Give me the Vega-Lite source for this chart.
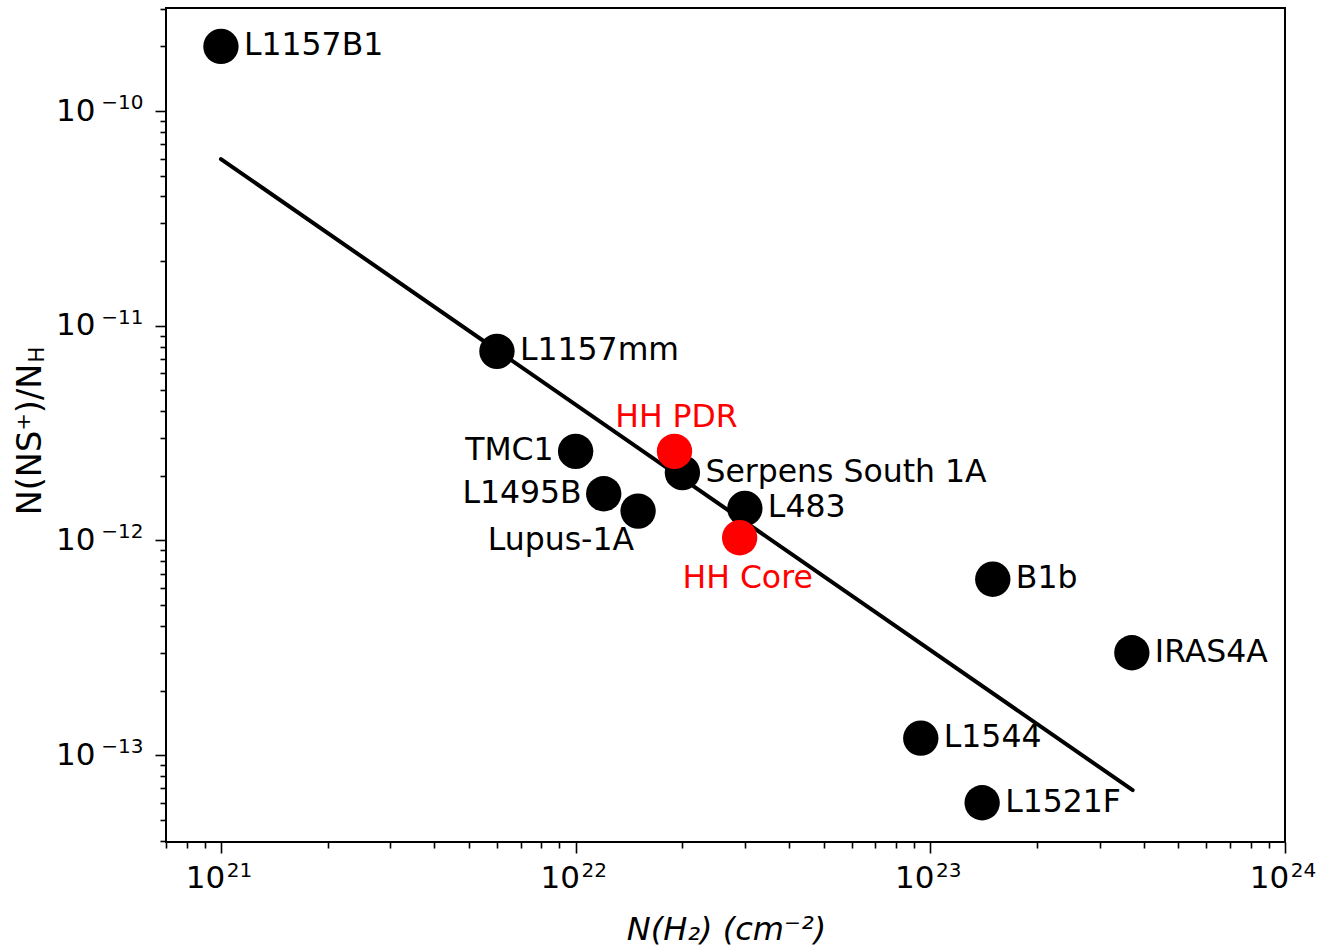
{
  "$schema": "https://vega.github.io/schema/vega-lite/v6.json",
  "width": 1119,
  "height": 834,
  "autosize": {"type": "none"},
  "padding": {"left": 166, "top": 8, "right": 52, "bottom": 109},
  "background": "white",
  "config": {
    "font": "DejaVu Sans",
    "view": {"stroke": "black", "strokeWidth": 2},
    "axis": {
      "domain": false,
      "grid": false,
      "tickColor": "black",
      "tickWidth": 1.6,
      "labelColor": "black",
      "labelFont": "DejaVu Sans",
      "labelFontSize": 31,
      "titleFont": "DejaVu Sans",
      "titleFontSize": 32,
      "titleColor": "black",
      "titleFontWeight": "normal",
      "labelFlush": false,
      "labelOverlap": false
    }
  },
  "datasets": {
    "sources": [
      {"name": "L1157B1", "nh2": 1.0e21, "ratio": 2.0e-10, "group": "literature"},
      {"name": "L1157mm", "nh2": 6.0e21, "ratio": 7.6e-12, "group": "literature"},
      {"name": "TMC1", "nh2": 1.0e22, "ratio": 2.6e-12, "group": "literature"},
      {"name": "L1495B", "nh2": 1.2e22, "ratio": 1.65e-12, "group": "literature"},
      {"name": "Lupus-1A", "nh2": 1.5e22, "ratio": 1.37e-12, "group": "literature"},
      {"name": "Serpens South 1A", "nh2": 2.0e22, "ratio": 2.07e-12, "group": "literature"},
      {"name": "L483", "nh2": 3.0e22, "ratio": 1.41e-12, "group": "literature"},
      {"name": "B1b", "nh2": 1.5e23, "ratio": 6.6e-13, "group": "literature"},
      {"name": "IRAS4A", "nh2": 3.7e23, "ratio": 3.0e-13, "group": "literature"},
      {"name": "L1544", "nh2": 9.4e22, "ratio": 1.2e-13, "group": "literature"},
      {"name": "L1521F", "nh2": 1.4e23, "ratio": 6.0e-14, "group": "literature"},
      {"name": "HH PDR", "nh2": 1.9e22, "ratio": 2.6e-12, "group": "this work"},
      {"name": "HH Core", "nh2": 2.9e22, "ratio": 1.03e-12, "group": "this work"}
    ],
    "fit": [
      {"nh2": 1.0e21, "ratio": 5.97e-11},
      {"nh2": 3.72e23, "ratio": 6.87e-14}
    ]
  },
  "resolve": {"axis": {"x": "independent", "y": "independent"}},
  "layer": [
    {
      "data": {"name": "fit"},
      "mark": {"type": "line", "color": "black", "strokeWidth": 4, "strokeCap": "round"},
      "encoding": {
        "x": {
          "field": "nh2", "type": "quantitative",
          "scale": {"type": "log", "domain": [7e20, 1e24]},
          "axis": {
            "orient": "bottom",
            "values": [1e21, 1e22, 1e23, 1e24],
            "tickSize": 11,
            "labelBaseline": "middle",
            "labelPadding": 25,
            "labelOffset": -16,
            "labelExpr": "'10'",
            "title": "N(H₂) (cm⁻²)",
            "titleFontStyle": "italic",
            "titleAlign": "center",
            "titleBaseline": "alphabetic",
            "titleAngle": 0,
            "titleX": 560,
            "titleY": 97
          }
        },
        "y": {
          "field": "ratio", "type": "quantitative",
          "scale": {"type": "log", "domain": [3.94e-14, 3.02e-10]},
          "axis": {
            "orient": "left",
            "values": [1e-13, 1e-12, 1e-11, 1e-10],
            "tickSize": 11,
            "labelAlign": "right",
            "labelBaseline": "middle",
            "labelPadding": 60,
            "labelExpr": "'10'",
            "title": "N(NS⁺)/N",
            "titleFontSize": 33.5,
            "titleAngle": -90,
            "titleAlign": "center",
            "titleBaseline": "alphabetic",
            "titleX": -126,
            "titleY": 431
          }
        }
      }
    },
    {
      "data": {"name": "sources"},
      "mark": {"type": "circle", "size": 1250, "opacity": 1},
      "encoding": {
        "x": {
          "field": "nh2", "type": "quantitative",
          "scale": {"type": "log", "domain": [7e20, 1e24]},
          "axis": {
            "orient": "bottom",
            "values": [7e20, 8e20, 9e20, 2e21, 3e21, 4e21, 5e21, 6e21, 7e21, 8e21, 9e21, 2e22, 3e22, 4e22, 5e22, 6e22, 7e22, 8e22, 9e22, 2e23, 3e23, 4e23, 5e23, 6e23, 7e23, 8e23, 9e23],
            "tickSize": 6,
            "labels": false,
            "title": null
          }
        },
        "y": {
          "field": "ratio", "type": "quantitative",
          "scale": {"type": "log", "domain": [3.94e-14, 3.02e-10]},
          "axis": {
            "orient": "left",
            "values": [4e-14, 5e-14, 6e-14, 7e-14, 8e-14, 9e-14, 2e-13, 3e-13, 4e-13, 5e-13, 6e-13, 7e-13, 8e-13, 9e-13, 2e-12, 3e-12, 4e-12, 5e-12, 6e-12, 7e-12, 8e-12, 9e-12, 2e-11, 3e-11, 4e-11, 5e-11, 6e-11, 7e-11, 8e-11, 9e-11, 2e-10, 3e-10],
            "tickSize": 6,
            "labels": false,
            "title": null
          }
        },
        "color": {
          "field": "group", "type": "nominal",
          "scale": {"domain": ["literature", "this work"], "range": ["black", "red"]},
          "legend": null
        }
      }
    },
    {
      "data": {"name": "sources"},
      "transform": [{"filter": "indexof(['L1157B1','L1157mm','Serpens South 1A','L483','B1b','IRAS4A','L1544','L1521F'], datum.name) >= 0"}],
      "mark": {"type": "text", "align": "left", "baseline": "middle", "dx": 23, "fontSize": 31.5, "font": "DejaVu Sans"},
      "encoding": {
        "x": {
          "field": "nh2", "type": "quantitative",
          "scale": {"type": "log", "domain": [7e20, 1e24]},
          "axis": {
            "orient": "bottom",
            "values": [1e21, 1e22, 1e23, 1e24],
            "tickSize": 11,
            "tickOpacity": 0,
            "labelFontSize": 20,
            "labelBaseline": "middle",
            "labelPadding": 17,
            "labelOffset": 18,
            "labelExpr": "datum.value < 5e21 ? '21' : datum.value < 5e22 ? '22' : datum.value < 5e23 ? '23' : '24'",
            "title": null
          }
        },
        "y": {
          "field": "ratio", "type": "quantitative",
          "scale": {"type": "log", "domain": [3.94e-14, 3.02e-10]},
          "axis": {
            "orient": "left",
            "values": [1e-13, 1e-12, 1e-11, 1e-10],
            "tickSize": 11,
            "tickOpacity": 0,
            "labelFontSize": 20,
            "labelAlign": "right",
            "labelBaseline": "middle",
            "labelPadding": 12,
            "labelOffset": -8.5,
            "labelExpr": "datum.value < 5e-13 ? '−13' : datum.value < 5e-12 ? '−12' : datum.value < 5e-11 ? '−11' : '−10'",
            "title": null
          }
        },
        "text": {"field": "name"},
        "color": {"field": "group", "type": "nominal", "scale": {"domain": ["literature", "this work"], "range": ["black", "red"]}, "legend": null}
      }
    },
    {
      "data": {"name": "sources"},
      "transform": [{"filter": "datum.name == 'TMC1' || datum.name == 'L1495B'"}],
      "mark": {"type": "text", "align": "right", "baseline": "middle", "dx": -22, "fontSize": 31.5, "font": "DejaVu Sans"},
      "encoding": {
        "x": {"field": "nh2", "type": "quantitative", "scale": {"type": "log", "domain": [7e20, 1e24]}, "axis": null},
        "y": {
          "field": "ratio", "type": "quantitative",
          "scale": {"type": "log", "domain": [3.94e-14, 3.02e-10]},
          "axis": {
            "orient": "left",
            "values": [],
            "ticks": false,
            "labels": false,
            "title": "H",
            "titleFontSize": 21,
            "titleAngle": -90,
            "titleAlign": "center",
            "titleBaseline": "alphabetic",
            "titleX": -123,
            "titleY": 346
          }
        },
        "text": {"field": "name"},
        "color": {"field": "group", "type": "nominal", "scale": {"domain": ["literature", "this work"], "range": ["black", "red"]}, "legend": null}
      }
    },
    {
      "data": {"name": "sources"},
      "transform": [{"filter": "datum.name == 'Lupus-1A'"}],
      "mark": {"type": "text", "align": "right", "baseline": "middle", "dx": -4, "dy": 30, "fontSize": 31.5, "font": "DejaVu Sans"},
      "encoding": {
        "x": {"field": "nh2", "type": "quantitative", "scale": {"type": "log", "domain": [7e20, 1e24]}, "axis": null},
        "y": {"field": "ratio", "type": "quantitative", "scale": {"type": "log", "domain": [3.94e-14, 3.02e-10]}, "axis": null},
        "text": {"field": "name"},
        "color": {"field": "group", "type": "nominal", "scale": {"domain": ["literature", "this work"], "range": ["black", "red"]}, "legend": null}
      }
    },
    {
      "data": {"name": "sources"},
      "transform": [{"filter": "datum.name == 'HH PDR'"}],
      "mark": {"type": "text", "align": "center", "baseline": "middle", "dx": 2, "dy": -33, "fontSize": 31.5, "font": "DejaVu Sans"},
      "encoding": {
        "x": {"field": "nh2", "type": "quantitative", "scale": {"type": "log", "domain": [7e20, 1e24]}, "axis": null},
        "y": {"field": "ratio", "type": "quantitative", "scale": {"type": "log", "domain": [3.94e-14, 3.02e-10]}, "axis": null},
        "text": {"field": "name"},
        "color": {"field": "group", "type": "nominal", "scale": {"domain": ["literature", "this work"], "range": ["black", "red"]}, "legend": null}
      }
    },
    {
      "data": {"name": "sources"},
      "transform": [{"filter": "datum.name == 'HH Core'"}],
      "mark": {"type": "text", "align": "center", "baseline": "middle", "dx": 8, "dy": 41, "fontSize": 31.5, "font": "DejaVu Sans"},
      "encoding": {
        "x": {"field": "nh2", "type": "quantitative", "scale": {"type": "log", "domain": [7e20, 1e24]}, "axis": null},
        "y": {"field": "ratio", "type": "quantitative", "scale": {"type": "log", "domain": [3.94e-14, 3.02e-10]}, "axis": null},
        "text": {"field": "name"},
        "color": {"field": "group", "type": "nominal", "scale": {"domain": ["literature", "this work"], "range": ["black", "red"]}, "legend": null}
      }
    }
  ]
}
